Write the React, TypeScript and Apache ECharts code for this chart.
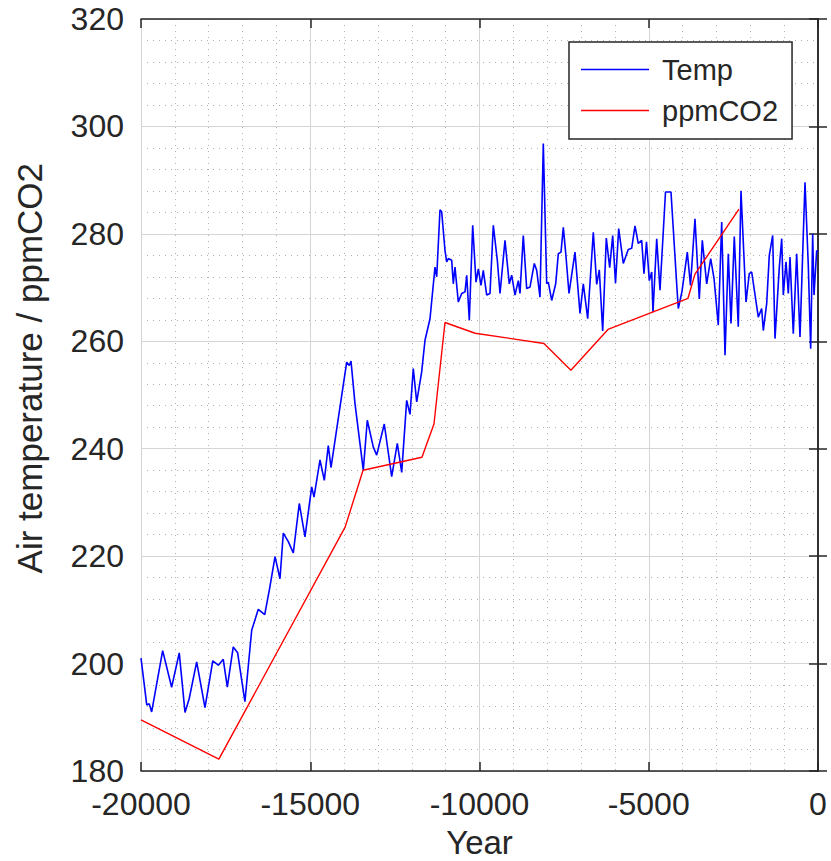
import React, { useEffect, useRef } from "react";
import * as echarts from "echarts";

const tempYear: number[] = [
  -20000, -19830, -19755, -19685, -19360, -19095, -18870, -18700, -18575, -18355,
  -18110, -17880, -17715, -17570, -17450, -17275, -17145, -16930, -16730, -16535,
  -16345, -16200, -16040, -15894, -15796, -15648, -15501, -15324, -15155, -14957,
  -14889, -14712, -14585, -14467, -14387, -14121, -13923, -13846, -13796, -13678,
  -13433, -13315, -13137, -13037, -12813, -12594, -12428, -12298, -12151, -12053,
  -11956, -11855, -11708, -11610, -11462, -11315, -11264, -11167, -11117, -11019,
  -10969, -10922, -10822, -10774, -10724, -10626, -10526, -10428, -10378, -10301,
  -10201, -10103, -10035, -9956, -9888, -9787, -9690, -9592, -9474, -9394,
  -9247, -9120, -9049, -8951, -8854, -8804, -8706, -8606, -8508, -8381,
  -8310, -8213, -8115, -8015, -7968, -7867, -7749, -7672, -7592, -7524,
  -7453, -7356, -7179, -7031, -6933, -6804, -6638, -6538, -6461, -6361,
  -6254, -6154, -6065, -5982, -5888, -5752, -5605, -5504, -5406, -5309,
  -5209, -5141, -5067, -4984, -4913, -4875, -4765, -4668, -4505, -4343,
  -4157, -4127, -4018, -3861, -3767, -3634, -3507, -3418, -3288, -3170,
  -3072, -2946, -2845, -2747, -2650, -2570, -2473, -2355, -2275, -2127,
  -2030, -1959, -1764, -1664, -1616, -1516, -1439, -1339, -1270, -1143,
  -1072, -1025, -945, -877, -827, -730, -630, -532, -384, -287,
  -216, -157, -118, -39, 0,
];

const tempValue: number[] = [
  201.0, 192.3, 192.5, 191.0, 202.4, 195.6, 202.0, 190.9, 193.5, 200.3,
  191.8, 200.5, 199.7, 200.8, 195.6, 203.1, 202.0, 192.9, 206.2, 210.1,
  209.1, 214.0, 219.9, 215.8, 224.3, 222.7, 220.6, 229.8, 223.6, 232.9,
  231.0, 237.9, 234.1, 240.6, 236.5, 247.8, 256.1, 255.5, 256.3, 248.4,
  236.0, 245.3, 240.3, 238.8, 244.6, 234.8, 241.0, 235.6, 249.0, 246.4,
  254.9, 248.7, 254.3, 260.2, 264.2, 273.8, 272.0, 284.5, 284.1, 276.9,
  274.8, 275.4, 275.1, 270.7, 273.8, 267.3, 268.9, 269.2, 272.3, 263.9,
  281.6, 271.0, 273.5, 270.4, 273.2, 268.6, 268.9, 281.6, 275.1, 268.9,
  278.8, 270.7, 272.3, 268.6, 271.3, 268.9, 279.7, 269.8, 270.1, 274.5,
  273.2, 268.2, 296.8, 270.7, 271.0, 267.6, 270.7, 276.3, 276.6, 281.2,
  276.4, 268.9, 276.6, 265.2, 270.7, 264.2, 280.3, 270.6, 273.3, 261.9,
  279.2, 273.7, 279.7, 270.8, 281.0, 274.5, 277.1, 277.3, 281.5, 278.2,
  278.8, 272.6, 278.5, 271.3, 272.9, 265.4, 279.1, 269.5, 287.8, 287.8,
  268.9, 266.1, 269.3, 276.6, 270.4, 282.8, 267.9, 278.8, 270.7, 275.4,
  271.7, 263.0, 282.2, 257.4, 276.3, 263.3, 279.5, 262.7, 288.0, 267.3,
  272.6, 272.9, 264.5, 266.1, 262.0, 267.0, 276.0, 279.7, 260.5, 273.8,
  279.1, 268.6, 274.8, 268.9, 275.7, 261.4, 276.3, 260.8, 289.6, 274.1,
  258.6, 280.0, 268.6, 276.9, 276.7,
];

const co2Year: number[] = [
  -20000, -17700, -13970, -13440, -11700, -11345, -11020, -10130, -8095, -7300,
  -6205, -3840, -3635, -2335,
];
const co2Value: number[] = [
  189.5, 182.2, 225.4, 236.0, 238.4, 244.6, 263.5, 261.5, 259.6, 254.6,
  262.2, 268.0, 272.5, 284.6,
];

const seriesNames: string[] = ["Temp", "ppmCO2"];
const xTitle = "Year";
const yTitle = "Air temperature / ppmCO2";

const FONT = "'Liberation Sans', Arial, Helvetica, sans-serif";
const INK = "#262626";

export default function App() {
  const ref = useRef<HTMLDivElement>(null);

  useEffect(() => {
    if (!ref.current) return;
    const chart = echarts.init(ref.current, undefined, { renderer: "svg" });

    const tempData = tempYear.map((y, i) => [y, tempValue[i]]);
    const co2Data = co2Year.map((y, i) => [y, co2Value[i]]);

    const baseAxisX = {
      type: "value" as const,
      min: -20000,
      max: 0,
      interval: 5000,
    };
    const baseAxisY = {
      type: "value" as const,
      min: 180,
      max: 320,
      interval: 20,
    };

    chart.setOption({
      animation: false,
      backgroundColor: "#ffffff",
      grid: {
        left: 141,
        right: 13,
        top: 19,
        bottom: 90,
        containLabel: false,
        outerBoundsMode: "none",
      },
      legend: {
        orient: "vertical",
        left: 569,
        top: 42,
        padding: [13, 14, 14, 12],
        itemGap: 12,
        itemWidth: 68,
        itemHeight: 1.5,
        icon: "rect",
        backgroundColor: "#ffffff",
        borderColor: INK,
        borderWidth: 1.5,
        borderRadius: 0,
        data: seriesNames,
        textStyle: {
          fontFamily: FONT,
          fontSize: 29,
          color: INK,
          padding: [0, 0, 0, 8],
        },
      },
      xAxis: [
        {
          ...baseAxisX,
          position: "bottom",
          name: xTitle,
          nameLocation: "middle",
          nameGap: 55,
          nameTextStyle: { fontFamily: FONT, fontSize: 33, color: INK },
          axisLine: { show: true, lineStyle: { color: INK, width: 1.5 } },
          axisTick: { show: true, inside: true, length: 9, lineStyle: { color: INK, width: 1.5 } },
          axisLabel: {
            fontFamily: FONT,
            fontSize: 32,
            color: INK,
            margin: 17,
            formatter: (v: number) => String(v),
          },
          splitLine: { show: true, lineStyle: { color: "#d4d4d4", width: 1 } },
          minorTick: { show: false, splitNumber: 5 },
          minorSplitLine: { show: true, lineStyle: { color: "#b0b0b0", width: 1, type: [1, 5] } },
        },
        {
          ...baseAxisX,
          position: "top",
          axisLine: { show: true, lineStyle: { color: INK, width: 1.5 } },
          axisTick: { show: true, inside: true, length: 9, lineStyle: { color: INK, width: 1.5 } },
          axisLabel: { show: false },
          splitLine: { show: false },
        },
      ],
      yAxis: [
        {
          ...baseAxisY,
          position: "left",
          axisLine: { show: true, lineStyle: { color: INK, width: 1.5 } },
          axisTick: { show: true, inside: true, length: 9, lineStyle: { color: INK, width: 1.5 } },
          axisLabel: { fontFamily: FONT, fontSize: 32, color: INK, margin: 17 },
          splitLine: { show: true, lineStyle: { color: "#d4d4d4", width: 1 } },
          minorTick: { show: false, splitNumber: 5 },
          minorSplitLine: { show: true, lineStyle: { color: "#b0b0b0", width: 1, type: [1, 5] } },
        },
        {
          ...baseAxisY,
          position: "right",
          axisLine: { show: true, lineStyle: { color: INK, width: 1.5 } },
          axisTick: { show: true, inside: true, length: 9, lineStyle: { color: INK, width: 1.5 } },
          axisLabel: { show: false },
          splitLine: { show: false },
        },
      ],
      graphic: [
        {
          type: "text",
          left: 12,
          top: 163,
          rotation: Math.PI / 2,
          originX: 0,
          originY: 0,
          style: {
            text: yTitle,
            fontFamily: FONT,
            fontSize: 35,
            fill: INK,
          },
        },
      ],
      series: [
        {
          name: seriesNames[0],
          type: "line",
          xAxisIndex: 0,
          yAxisIndex: 0,
          data: tempData,
          showSymbol: false,
          symbol: "none",
          color: "#0000ff",
          lineStyle: { color: "#0000ff", width: 1.6 },
          z: 3,
        },
        {
          name: seriesNames[1],
          type: "line",
          xAxisIndex: 0,
          yAxisIndex: 0,
          data: co2Data,
          showSymbol: false,
          symbol: "none",
          color: "#ff0000",
          lineStyle: { color: "#ff0000", width: 1.4 },
          z: 4,
        },
      ],
    });

    return () => chart.dispose();
  }, []);

  return (
    <div
      ref={ref}
      style={{ position: "fixed", left: 0, top: 0, width: 831, height: 861, background: "#fff" }}
    />
  );
}
